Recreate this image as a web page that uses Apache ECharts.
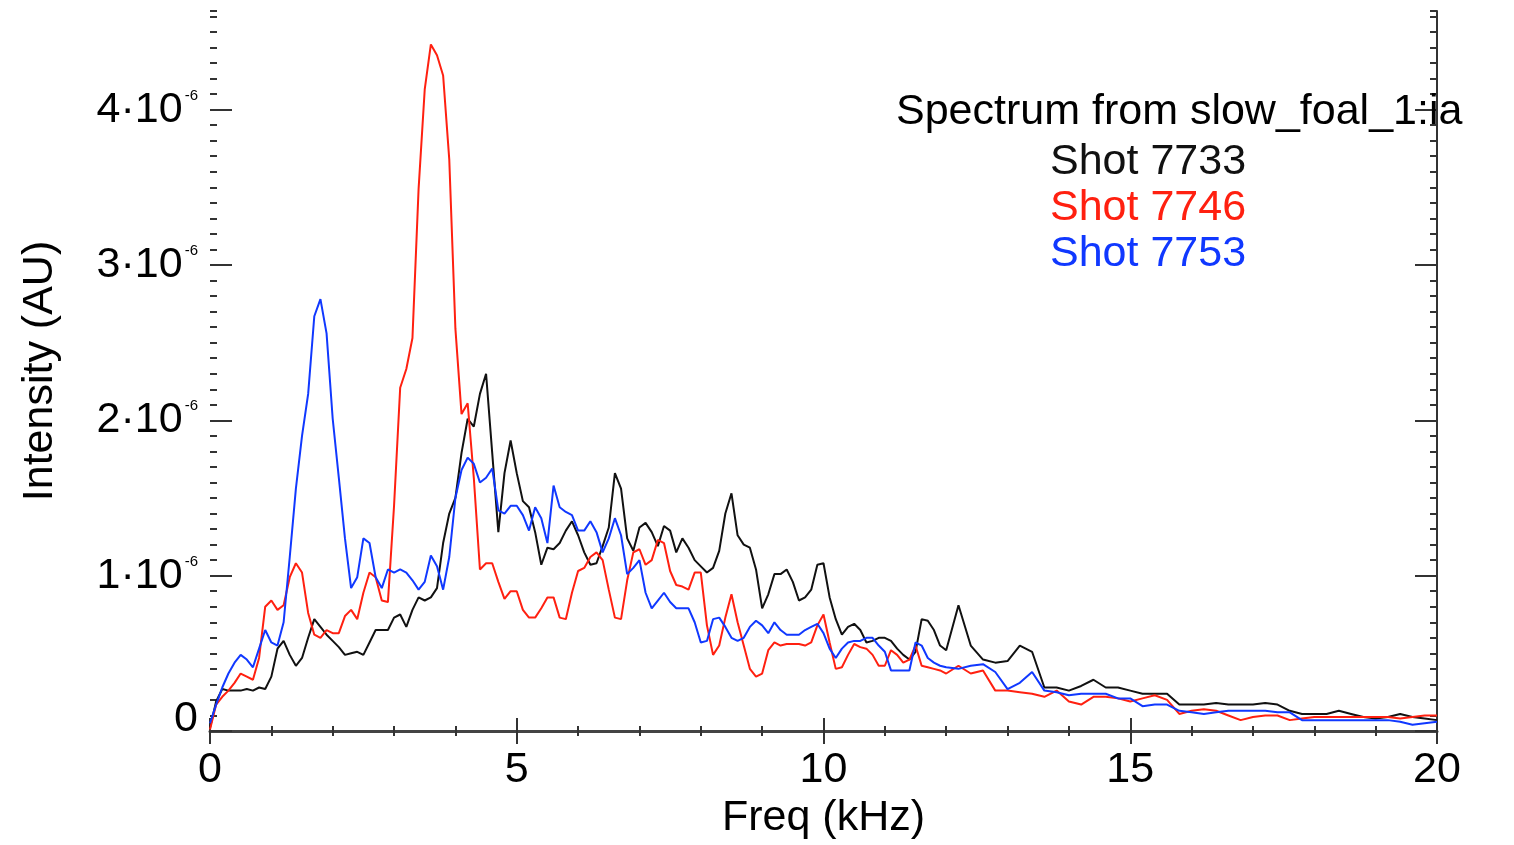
<!DOCTYPE html>
<html>
<head>
<meta charset="utf-8">
<script src="https://cdn.jsdelivr.net/npm/echarts@6/dist/echarts.min.js"></script>
<style>
  html, body { margin: 0; padding: 0; background: #fff; }
  #chart { width: 1514px; height: 845px; }
</style>
</head>
<body>
<div id="chart"></div>
<script>
// frequency grid (kHz)
const freqKHz = [
  0, 0.1, 0.2, 0.3, 0.4, 0.5, 0.6, 0.7, 0.8, 0.9,
  1, 1.1, 1.2, 1.3, 1.4, 1.5, 1.6, 1.7, 1.8, 1.9,
  2, 2.1, 2.2, 2.3, 2.4, 2.5, 2.6, 2.7, 2.8, 2.9,
  3, 3.1, 3.2, 3.3, 3.4, 3.5, 3.6, 3.7, 3.8, 3.9,
  4, 4.1, 4.2, 4.3, 4.4, 4.5, 4.6, 4.7, 4.8, 4.9,
  5, 5.1, 5.2, 5.3, 5.4, 5.5, 5.6, 5.7, 5.8, 5.9,
  6, 6.1, 6.2, 6.3, 6.4, 6.5, 6.6, 6.7, 6.8, 6.9,
  7, 7.1, 7.2, 7.3, 7.4, 7.5, 7.6, 7.7, 7.8, 7.9,
  8, 8.1, 8.2, 8.3, 8.4, 8.5, 8.6, 8.7, 8.8, 8.9,
  9, 9.1, 9.2, 9.3, 9.4, 9.5, 9.6, 9.7, 9.8, 9.9,
  10, 10.1, 10.2, 10.3, 10.4, 10.5, 10.6, 10.7, 10.8, 10.9,
  11, 11.1, 11.2, 11.3, 11.4, 11.5, 11.6, 11.7, 11.8, 11.9,
  12,
  12.2, 12.4, 12.6, 12.8, 13, 13.2, 13.4, 13.6, 13.8, 14,
  14.2, 14.4, 14.6, 14.8, 15, 15.2, 15.4, 15.6, 15.8, 16,
  16.2, 16.4, 16.6, 16.8, 17, 17.2, 17.4, 17.6, 17.8, 18,
  18.2, 18.4, 18.6, 18.8, 19, 19.2, 19.4, 19.6, 19.8, 20
]

// intensities, in units of 1e-6 AU
const shot7733 = [
  0.02, 0.19, 0.27, 0.26, 0.26, 0.26, 0.27, 0.26, 0.28, 0.27,
  0.35, 0.53, 0.58, 0.49, 0.42, 0.47, 0.60, 0.72, 0.67, 0.62,
  0.58, 0.54, 0.49, 0.50, 0.51, 0.49, 0.57, 0.65, 0.65, 0.65,
  0.73, 0.75, 0.67, 0.78, 0.86, 0.84, 0.86, 0.92, 1.21, 1.40,
  1.50, 1.79, 2.01, 1.96, 2.17, 2.30, 1.79, 1.28, 1.66, 1.87,
  1.66, 1.48, 1.44, 1.28, 1.07, 1.18, 1.17, 1.21, 1.29, 1.35,
  1.26, 1.15, 1.07, 1.08, 1.19, 1.31, 1.66, 1.56, 1.24, 1.16,
  1.31, 1.34, 1.28, 1.19, 1.32, 1.29, 1.15, 1.24, 1.18, 1.10,
  1.06, 1.02, 1.05, 1.16, 1.40, 1.53, 1.26, 1.20, 1.18, 1.04,
  0.79, 0.88, 1.01, 1.01, 1.04, 0.96, 0.84, 0.86, 0.91, 1.07,
  1.08, 0.86, 0.72, 0.62, 0.67, 0.69, 0.65, 0.57, 0.58, 0.60,
  0.60, 0.58, 0.53, 0.49, 0.46, 0.51, 0.72, 0.71, 0.65, 0.55,
  0.52,
  0.81, 0.55, 0.46, 0.44, 0.45, 0.55, 0.51, 0.28, 0.28, 0.26,
  0.29, 0.33, 0.28, 0.28, 0.26, 0.24, 0.24, 0.24, 0.17, 0.17,
  0.17, 0.18, 0.17, 0.17, 0.17, 0.18, 0.17, 0.13, 0.11, 0.11,
  0.11, 0.13, 0.11, 0.09, 0.08, 0.09, 0.11, 0.09, 0.08, 0.07
]

const shot7746 = [
  0.01, 0.17, 0.22, 0.26, 0.31, 0.37, 0.35, 0.33, 0.47, 0.80,
  0.84, 0.78, 0.81, 0.99, 1.08, 1.02, 0.76, 0.62, 0.60, 0.65,
  0.63, 0.63, 0.74, 0.78, 0.72, 0.89, 1.02, 0.99, 0.84, 0.83,
  1.45, 2.21, 2.33, 2.53, 3.49, 4.13, 4.42, 4.35, 4.22, 3.68,
  2.59, 2.04, 2.11, 1.63, 1.04, 1.08, 1.08, 0.96, 0.85, 0.90,
  0.90, 0.78, 0.73, 0.73, 0.79, 0.86, 0.86, 0.73, 0.72, 0.89,
  1.03, 1.05, 1.12, 1.15, 1.10, 0.91, 0.73, 0.72, 0.97, 1.15,
  1.17, 1.07, 1.10, 1.23, 1.21, 1.03, 0.94, 0.93, 0.91, 1.02,
  1.02, 0.68, 0.49, 0.55, 0.73, 0.88, 0.70, 0.55, 0.40, 0.35,
  0.37, 0.52, 0.57, 0.55, 0.56, 0.56, 0.56, 0.55, 0.57, 0.68,
  0.75, 0.57, 0.40, 0.41, 0.49, 0.56, 0.54, 0.53, 0.49, 0.42,
  0.42, 0.52, 0.49, 0.44, 0.46, 0.55, 0.42, 0.41, 0.40, 0.39,
  0.37,
  0.42, 0.37, 0.39, 0.26, 0.26, 0.25, 0.24, 0.22, 0.26, 0.19,
  0.17, 0.22, 0.22, 0.21, 0.19, 0.21, 0.23, 0.20, 0.11, 0.13,
  0.14, 0.13, 0.10, 0.07, 0.09, 0.10, 0.10, 0.07, 0.08, 0.09,
  0.09, 0.09, 0.09, 0.09, 0.09, 0.09, 0.08, 0.09, 0.10, 0.10
]

const shot7753 = [
  0.05, 0.17, 0.28, 0.37, 0.44, 0.49, 0.46, 0.41, 0.53, 0.65,
  0.57, 0.55, 0.70, 1.12, 1.56, 1.90, 2.17, 2.67, 2.78, 2.56,
  2.01, 1.63, 1.24, 0.92, 0.99, 1.24, 1.21, 0.99, 0.92, 1.04,
  1.02, 1.04, 1.02, 0.97, 0.91, 0.96, 1.13, 1.06, 0.91, 1.12,
  1.50, 1.68, 1.76, 1.72, 1.60, 1.63, 1.69, 1.42, 1.40, 1.45,
  1.45, 1.39, 1.29, 1.44, 1.37, 1.21, 1.58, 1.44, 1.41, 1.39,
  1.29, 1.29, 1.35, 1.28, 1.15, 1.24, 1.37, 1.26, 1.01, 1.05,
  1.10, 0.89, 0.79, 0.84, 0.89, 0.83, 0.79, 0.79, 0.79, 0.70,
  0.57, 0.58, 0.72, 0.73, 0.67, 0.60, 0.58, 0.60, 0.67, 0.71,
  0.68, 0.63, 0.70, 0.65, 0.62, 0.62, 0.62, 0.65, 0.67, 0.69,
  0.63, 0.53, 0.47, 0.53, 0.57, 0.58, 0.58, 0.60, 0.60, 0.55,
  0.51, 0.39, 0.39, 0.39, 0.39, 0.57, 0.55, 0.47, 0.44, 0.42,
  0.41,
  0.40, 0.42, 0.43, 0.38, 0.27, 0.31, 0.38, 0.26, 0.25, 0.23,
  0.24, 0.24, 0.24, 0.21, 0.21, 0.16, 0.17, 0.17, 0.13, 0.12,
  0.11, 0.12, 0.13, 0.13, 0.13, 0.13, 0.12, 0.12, 0.07, 0.07,
  0.07, 0.07, 0.07, 0.07, 0.07, 0.07, 0.06, 0.04, 0.05, 0.06
]

const yTicks = [0, 1, 2, 3, 4]
const seriesNames = ['Shot 7733', 'Shot 7746', 'Shot 7753']
const seriesColors = ['#111111', '#ff2010', '#1038ff']

const FONT = 'Liberation Sans'
const AXIS = '#333'

const chart = echarts.init(document.getElementById('chart'))
const pairs = arr => freqKHz.map((f, i) => [f, arr[i]])

const yLabel = {
  show: true,
  margin: 12,
  customValues: yTicks,
  formatter: v => v === 0 ? '{z|0}' : '{m|' + v + '\u00b710}{s|-6}',
  rich: {
    m: { fontSize: 43, fontFamily: FONT, color: '#000' },
    s: { fontSize: 15, fontFamily: FONT, color: '#000', verticalAlign: 'top', padding: [0, 0, 0, 2] },
    z: { fontSize: 43, fontFamily: FONT, color: '#000', padding: [0, 0, 24, 0] }
  }
}

const yMajor = (pos, labels) => ({
  type: 'value', position: pos, min: 0, max: 4.635, interval: 1,
  splitLine: { show: false },
  axisLine: { show: pos === 'right', lineStyle: { color: AXIS, width: 2 } },
  axisTick: { show: true, inside: true, length: 22, customValues: yTicks, lineStyle: { color: AXIS, width: 2 } },
  axisLabel: labels ? yLabel : { show: false }
})
const yMinor = pos => ({
  type: 'value', position: pos, min: 0, max: 4.635, interval: 0.1,
  splitLine: { show: false },
  axisLine: { show: false },
  axisTick: { show: true, inside: true, length: 7, lineStyle: { color: AXIS, width: 2 } },
  axisLabel: { show: false }
})

const option = {
  animation: false,
  textStyle: { fontFamily: FONT },
  title: {
    text: 'Spectrum from slow_foal_1:ia',
    left: 896, top: 91, padding: 0,
    textStyle: { fontSize: 43, fontWeight: 'normal', color: '#000', fontFamily: FONT }
  },
  legend: {
    orient: 'vertical', left: 1045, top: 141, padding: 0,
    icon: 'none', itemWidth: 0, itemHeight: 0, itemGap: 3,
    selectedMode: false,
    textStyle: { fontSize: 43, fontFamily: FONT },
    data: seriesNames.map((n, i) => ({ name: n, textStyle: { color: seriesColors[i] } }))
  },
  grid: { left: 210, right: 77, top: 11, bottom: 111 },
  xAxis: [
    {
      type: 'value', position: 'bottom', min: 0, max: 20, interval: 5,
      name: 'Freq (kHz)', nameLocation: 'middle', nameGap: 66,
      nameTextStyle: { fontSize: 43, color: '#000', fontFamily: FONT },
      splitLine: { show: false },
      axisLine: { show: true, lineStyle: { color: '#444', width: 3 } },
      axisTick: { show: true, inside: true, length: 13, lineStyle: { color: AXIS, width: 2 } },
      minorTick: { show: true, splitNumber: 5, length: 5, lineStyle: { color: AXIS, width: 2 } },
      axisLabel: { margin: 18, fontSize: 43, color: '#000', fontFamily: FONT }
    },
    {
      type: 'value', position: 'top', min: 0, max: 20, interval: 5,
      splitLine: { show: false },
      axisLine: { show: false },
      axisTick: { show: true, inside: true, length: 13, lineStyle: { color: AXIS, width: 2 } },
      minorTick: { show: true, splitNumber: 5, length: 5, lineStyle: { color: AXIS, width: 2 } },
      axisLabel: { show: false }
    }
  ],
  yAxis: [
    Object.assign(yMajor('left', true), {
      name: 'Intensity (AU)', nameLocation: 'middle', nameGap: 148,
      nameTextStyle: { fontSize: 43, color: '#000', fontFamily: FONT }
    }),
    yMinor('left'),
    yMajor('right', false),
    yMinor('right')
  ],
  series: [shot7733, shot7746, shot7753].map((arr, i) => ({
    name: seriesNames[i],
    type: 'line',
    xAxisIndex: 0,
    yAxisIndex: 0,
    data: pairs(arr),
    showSymbol: false,
    symbol: 'none',
    lineStyle: { color: seriesColors[i], width: 2 },
    itemStyle: { color: seriesColors[i] }
  }))
}

chart.setOption(option)
</script>
</body>
</html>
